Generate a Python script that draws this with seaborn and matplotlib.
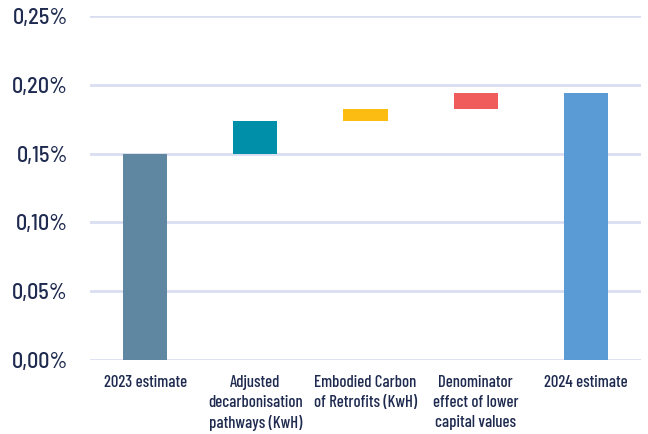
import matplotlib
matplotlib.use("Agg")
import matplotlib.pyplot as plt
import seaborn as sns
import pandas as pd
from matplotlib.ticker import FuncFormatter

# Waterfall: start value, three adjustments, end value (in %)
categories = [
    "2023 estimate",
    "Adjusted\ndecarbonisation\npathways (KwH)",
    "Embodied Carbon\nof Retrofits (KwH)",
    "Denominator\neffect of lower\ncapital values",
    "2024 estimate",
]
start_value = 0.150
adjustments = [0.0237, 0.0087, 0.0116]
colors = ["#5F87A1", "#008FA8", "#FDBC12", "#F05C5C", "#5B9BD5"]
y_ticks = [0.00, 0.05, 0.10, 0.15, 0.20, 0.25]

end_value = start_value + sum(adjustments)
heights = [start_value] + adjustments + [end_value]
bottoms = [0.0]
running = start_value
for a in adjustments:
    bottoms.append(running)
    running += a
bottoms.append(0.0)

df = pd.DataFrame({"category": categories, "height": heights, "bottom": bottoms})

sns.set_theme(style="white")
plt.rcParams["font.family"] = ["Barlow Semi Condensed", "DejaVu Sans"]
plt.rcParams["font.weight"] = 500
text_color = "#1E2A4F"
grid_color = "#D9DEF0"

fig = plt.figure(figsize=(6.48, 4.34), dpi=100)
ax = fig.add_axes([90 / 648, 1 - 360 / 434, (641 - 90) / 648, (360 - 16) / 434])

sns.barplot(data=df, x="category", y="height", bottom=df["bottom"].values,
            color=colors[0], width=0.4, ax=ax, zorder=3, saturation=1)
for patch, c in zip(ax.patches, colors):
    patch.set_facecolor(c)
    patch.set_edgecolor("none")

ax.set_ylim(0, 0.25)
ax.set_xlim(-0.5, len(categories) - 0.5)
ax.set_yticks(y_ticks)
ax.yaxis.set_major_formatter(FuncFormatter(lambda v, _: f"{v:.2f}%".replace(".", ",")))
ax.grid(axis="y", color=grid_color, linewidth=2, zorder=0)
ax.set_axisbelow(True)
for s in ax.spines.values():
    s.set_visible(False)
ax.set_xlabel("")
ax.set_ylabel("")
ax.tick_params(axis="y", length=0, pad=16, labelsize=16, labelcolor=text_color)
ax.tick_params(axis="x", length=0, pad=11, labelcolor=text_color)
for lbl in ax.get_xticklabels():
    lbl.set_family(["Barlow Condensed", "DejaVu Sans"])
    lbl.set_fontsize(12)
    lbl.set_linespacing(1.4)
    lbl.set_verticalalignment("top")

fig.savefig("out.png", dpi=100, facecolor="white")
